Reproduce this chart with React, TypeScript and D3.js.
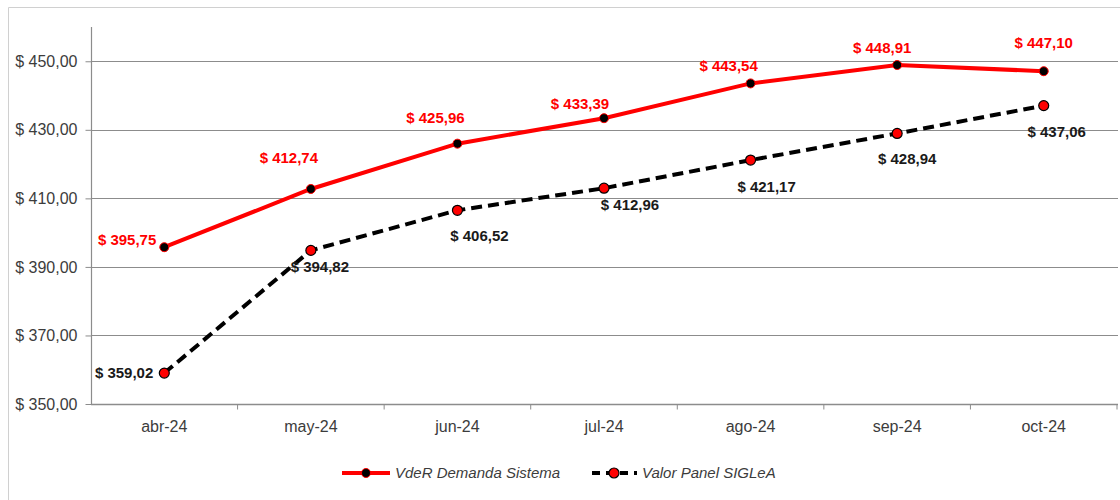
import React, { useEffect, useRef } from "react";
import * as d3 from "d3";

// chart values
const months = ["abr-24", "may-24", "jun-24", "jul-24", "ago-24", "sep-24", "oct-24"];
const vdeRDemanda = [395.75, 412.74, 425.96, 433.39, 443.54, 448.91, 447.1];
const valorPanel = [359.02, 394.82, 406.52, 412.96, 421.17, 428.94, 437.06];
const yTicks = [350, 370, 390, 410, 430, 450];
const seriesNames = ["VdeR Demanda Sistema", "Valor Panel SIGLeA"];

// hand placed label offsets (relative to each point), like in the original
const redLabelOffset = [
  [-8, -7, "end"], [-22, -31, "middle"], [-22, -26, "middle"], [-24, -14, "middle"],
  [-22, -18, "middle"], [-15, -17, "middle"], [0, -28, "middle"],
];
const blackLabelOffset = [
  [-11, 0, "end"], [9, 16, "middle"], [22, 25, "middle"], [26, 17, "middle"],
  [16, 27, "middle"], [10, 25, "middle"], [13, 26, "middle"],
];

const fmt = (v: number) => "$ " + v.toFixed(2).replace(".", ",");
const FONT = "'Liberation Sans', Arial, sans-serif";

export default function App() {
  const ref = useRef<SVGSVGElement>(null);

  useEffect(() => {
    const svg = d3.select(ref.current);
    svg.selectAll("*").remove();

    const x = d3.scaleBand().domain(months).range([91, 1117]);
    const y = d3.scaleLinear().domain([350, 460]).range([404, 27]);
    const cx = (m: string) => (x(m) as number) + x.bandwidth() / 2;

    // outer frame
    svg.append("path")
      .attr("d", "M8.5,500 L8.5,7.5 L1120,7.5")
      .attr("fill", "none")
      .attr("stroke", "#d0d0d0");

    // gridlines
    svg.append("g")
      .selectAll("line")
      .data(yTicks.slice(1))
      .join("line")
      .attr("x1", 91).attr("x2", 1118)
      .attr("y1", (d) => Math.round(y(d)) + 0.5)
      .attr("y2", (d) => Math.round(y(d)) + 0.5)
      .attr("stroke", "#8c8c8c")
      .attr("stroke-width", 1.2);

    // Y axis
    const yAxis = svg.append("g")
      .attr("transform", "translate(91.5,0)")
      .call(d3.axisLeft(y).tickValues(yTicks).tickSize(6).tickPadding(8).tickFormat((d) => fmt(+d)));
    yAxis.select(".domain").attr("stroke", "#8c8c8c").attr("stroke-width", 1.2).attr("d", "M0,27V404");
    yAxis.selectAll(".tick line").attr("stroke", "#8c8c8c");
    yAxis.selectAll("text")
      .attr("fill", "#3c3c3c")
      .style("font-family", FONT)
      .style("font-size", "16px");

    // X axis
    const xAxis = svg.append("g").attr("transform", "translate(0,404.5)");
    xAxis.append("line")
      .attr("x1", 91).attr("x2", 1118)
      .attr("stroke", "#8c8c8c").attr("stroke-width", 1.4);
    xAxis.selectAll(".xt")
      .data(months)
      .join("line")
      .attr("class", "xt")
      .attr("x1", (d) => (x(d) as number) + x.bandwidth())
      .attr("x2", (d) => (x(d) as number) + x.bandwidth())
      .attr("y1", 0).attr("y2", 5)
      .attr("stroke", "#8c8c8c");
    xAxis.selectAll("text")
      .data(months)
      .join("text")
      .attr("x", (d) => cx(d))
      .attr("y", 27)
      .attr("text-anchor", "middle")
      .attr("fill", "#3c3c3c")
      .style("font-family", FONT)
      .style("font-size", "16px")
      .text((d) => d);

    const line = d3.line<number>()
      .x((d, i) => cx(months[i]))
      .y((d) => y(d));

    // Valor Panel SIGLeA (dashed black)
    svg.append("path")
      .datum(valorPanel)
      .attr("d", line)
      .attr("fill", "none")
      .attr("stroke", "#000")
      .attr("stroke-width", 4)
      .attr("stroke-dasharray", "11,6");

    // VdeR Demanda Sistema (red)
    svg.append("path")
      .datum(vdeRDemanda)
      .attr("d", line)
      .attr("fill", "none")
      .attr("stroke", "#ff0000")
      .attr("stroke-width", 4);

    svg.append("g")
      .selectAll("circle")
      .data(valorPanel)
      .join("circle")
      .attr("cx", (d, i) => cx(months[i]))
      .attr("cy", (d) => y(d))
      .attr("r", 5)
      .attr("fill", "#ff0000")
      .attr("stroke", "#000")
      .attr("stroke-width", 1.2);

    svg.append("g")
      .selectAll("circle")
      .data(vdeRDemanda)
      .join("circle")
      .attr("cx", (d, i) => cx(months[i]))
      .attr("cy", (d) => y(d))
      .attr("r", 4.5)
      .attr("fill", "#000")
      .attr("stroke", "#ff0000")
      .attr("stroke-width", 1);

    // data labels
    const labels = (data: number[], offs: any[], color: string) =>
      svg.append("g")
        .selectAll("text")
        .data(data)
        .join("text")
        .attr("x", (d, i) => cx(months[i]) + offs[i][0])
        .attr("y", (d, i) => y(d) + offs[i][1])
        .attr("dy", "0.35em")
        .attr("text-anchor", (d, i) => offs[i][2])
        .attr("fill", color)
        .style("font-family", FONT)
        .style("font-size", "15px")
        .style("font-weight", "bold")
        .text((d) => fmt(d));
    labels(vdeRDemanda, redLabelOffset, "#ff0000");
    labels(valorPanel, blackLabelOffset, "#1a1a1a");

    // legend
    const lg = svg.append("g").attr("transform", "translate(0,473)");
    lg.append("line").attr("x1", 342).attr("x2", 390).attr("stroke", "#ff0000").attr("stroke-width", 4);
    lg.append("circle").attr("cx", 366).attr("r", 4.5).attr("fill", "#000").attr("stroke", "#ff0000");
    lg.append("line").attr("x1", 592).attr("x2", 637).attr("stroke", "#000")
      .attr("stroke-width", 4).attr("stroke-dasharray", "8,6");
    lg.append("circle").attr("cx", 614).attr("r", 5).attr("fill", "#ff0000").attr("stroke", "#000").attr("stroke-width", 1.2);
    lg.selectAll("text")
      .data(seriesNames)
      .join("text")
      .attr("x", (d, i) => (i === 0 ? 395 : 642))
      .attr("dy", "0.35em")
      .attr("fill", "#3c3c3c")
      .style("font-family", FONT)
      .style("font-size", "15px")
      .style("font-style", "italic")
      .text((d) => d);
  }, []);

  return (
    <svg
      ref={ref}
      width={1120}
      height={500}
      style={{ position: "absolute", left: 0, top: 0, background: "#fff" }}
    />
  );
}
